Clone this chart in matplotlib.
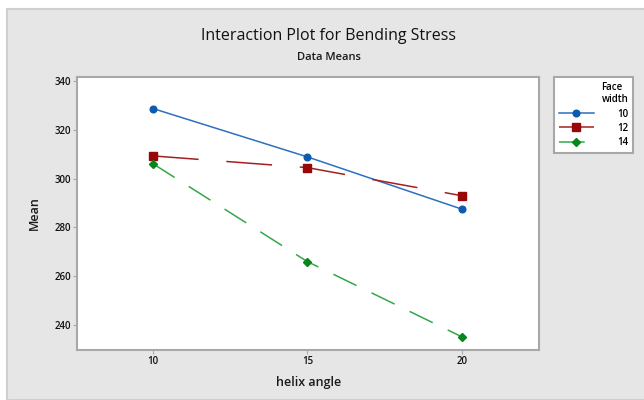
import matplotlib.pyplot as plt
from matplotlib.patches import Rectangle

# data
helix_angle = [10, 15, 20]
face_widths = ["10", "12", "14"]
mean_w10 = [328.7, 308.9, 287.5]
mean_w12 = [309.3, 304.5, 293.0]
mean_w14 = [306.1, 266.0, 235.2]

plt.rcParams['font.family'] = ['Open Sans', 'DejaVu Sans']
plt.rcParams['lines.scale_dashes'] = False

fig = plt.figure(figsize=(6.44, 4.0), dpi=100)
fig.patch.set_facecolor('white')
# grey panel behind everything (minitab style)
fig.patches.append(Rectangle((6.5 / 644, 0), 1, 1 - 8.5 / 400, transform=fig.transFigure,
                             facecolor='#e6e6e6', edgecolor='#cfcfcf', linewidth=1.5, zorder=-10))

ax = fig.add_axes([77.3 / 644, 1 - 349.5 / 400, (539 - 77.3) / 644, (349.5 - 77.3) / 400])
ax.set_facecolor('white')

styles = [
    (mean_w10, '#2e6fbf', '#0d5bb0', 'o', 4.8, '-'),
    (mean_w12, '#a32020', '#980808', 's', 5.4, (0, (33, 20))),
    (mean_w14, '#33a846', '#07861c', 'D', 4.5, (0, (18.5, 12))),
]
for (vals, lc, mc, mk, ms, ls), lab in zip(styles, face_widths):
    ax.plot(helix_angle, vals, color=lc, linestyle=ls, linewidth=1.1,
            marker=mk, markersize=ms, markerfacecolor=mc, markeredgecolor=mc, label=lab)

ax.set_xlim(7.55, 22.5)
ax.set_ylim(230, 341.5)
ax.set_xticks(helix_angle)
ax.set_yticks([240, 260, 280, 300, 320, 340])
for s in ax.spines.values():
    s.set_color('#a8a8a8')
    s.set_linewidth(1.5)
ax.tick_params(length=3, width=0.8, color='#a8a8a8', labelsize=7, pad=1.5, labelcolor='#111111')
for t in ax.get_xticklabels() + ax.get_yticklabels():
    t.set_fontweight('semibold')

ax.set_xlabel('helix angle', fontsize=9, fontweight='semibold', color='#1a1a1a', labelpad=7)
ax.set_ylabel('Mean', fontsize=9, fontweight='semibold', color='#1a1a1a', labelpad=10)

fig.text(0.51, 1 - 35.5 / 400, 'Interaction Plot for Bending Stress', ha='center', va='center',
         fontsize=11.5, fontweight='medium', color='#111111')
fig.text(0.51, 1 - 57 / 400, 'Data Means', ha='center', va='center',
         fontsize=8, fontweight='semibold', color='#1a1a1a')

leg = fig.legend(title='Face\nwidth', loc='upper left', bbox_to_anchor=(554 / 644, 1 - 77 / 400),
                 fontsize=7, title_fontsize=7, alignment='right', frameon=True, fancybox=False,
                 framealpha=1, handlelength=3.6, handletextpad=2.4, borderpad=0.5,
                 labelspacing=0.33, borderaxespad=0)
leg.get_frame().set_edgecolor('#a8a8a8')
leg.get_frame().set_linewidth(1.5)
leg.get_title().set_fontweight('semibold')
for t in leg.get_texts():
    t.set_fontweight('semibold')

fig.savefig('out.png', dpi=100)
